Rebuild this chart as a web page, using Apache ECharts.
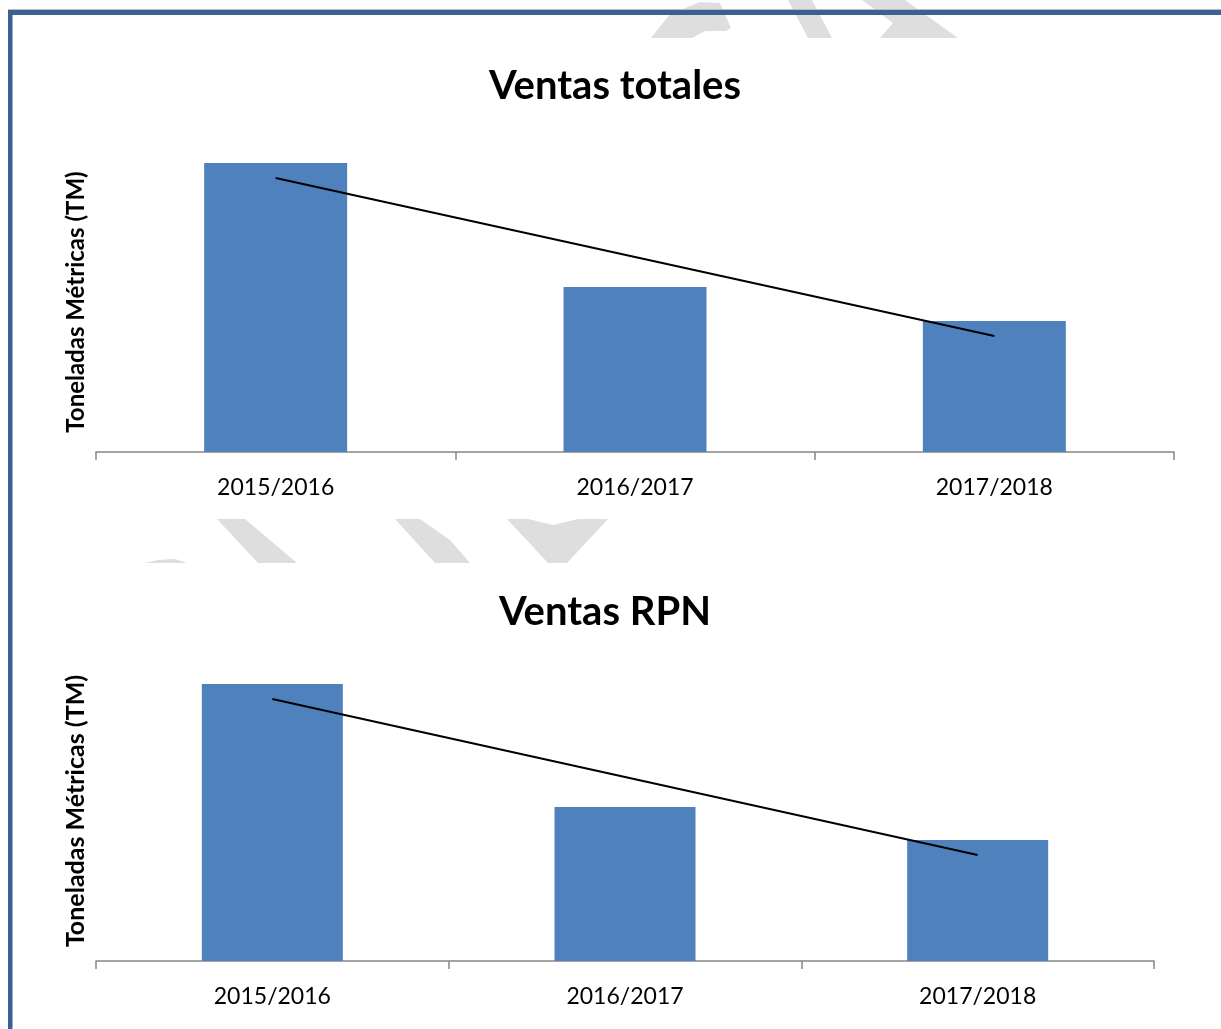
<!DOCTYPE html>
<html>
<head>
<meta charset="utf-8">
<title>Ventas totales / Ventas RPN</title>
<script src="https://cdn.jsdelivr.net/npm/echarts@6/dist/echarts.min.js"></script>
<style>
    html, body {
        margin: 0;
        padding: 0;
        background: #fff;
    }
    #main {
        width: 1221px;
        height: 1029px;
    }
</style>
</head>
<body>
<div id="main"></div>
<script>
// categorías y valores (unidades, sin escala visible)
const categories = ['2015/2016', '2016/2017', '2017/2018'];
const ventasTotales = [289, 165, 131];
const tendenciaTotales = [274, 195, 116];
const ventasRpn = [277, 154, 121];
const tendenciaRpn = [262, 184, 106];

const FONT = 'Lato, "Open Sans", sans-serif';
const BAR_COLOR = '#4f81bd';
const BORDER_COLOR = '#3b6190';
const MARCA = '#dedede';

const chart = echarts.init(document.getElementById('main'));

function xAxisCfg(idx) {
    return {
        type: 'category',
        gridIndex: idx,
        data: categories,
        axisLine: { lineStyle: { color: '#868686', width: 1.5 } },
        axisTick: { show: true, length: 8, lineStyle: { color: '#868686', width: 1.5 } },
        axisLabel: { color: '#000', fontFamily: FONT, fontSize: 23, margin: 24 }
    };
}

function yAxisCfg(idx, size) {
    return {
        type: 'value',
        gridIndex: idx,
        min: 0,
        max: 300,
        name: 'Toneladas Métricas (TM)',
        nameLocation: 'middle',
        nameRotate: 90,
        nameGap: 8,
        nameTextStyle: { color: '#000', fontFamily: FONT, fontSize: size, fontWeight: 'bold' },
        axisLine: { show: false },
        axisTick: { show: false },
        axisLabel: { show: false },
        splitLine: { show: false }
    };
}

chart.setOption({
    animation: false,
    title: [
        {
            text: 'Ventas totales',
            left: 610, top: 61, textAlign: 'center',
            textStyle: { color: '#000', fontFamily: FONT, fontSize: 40, fontWeight: 'bold' }
        },
        {
            text: 'Ventas RPN',
            left: 600, top: 587, textAlign: 'center',
            textStyle: { color: '#000', fontFamily: FONT, fontSize: 40, fontWeight: 'bold' }
        }
    ],
    grid: [
        { left: 96, width: 1078, top: 152, height: 300 },
        { left: 96, width: 1058, top: 661, height: 300 }
    ],
    xAxis: [xAxisCfg(0), xAxisCfg(1)],
    yAxis: [yAxisCfg(0, 24), yAxisCfg(1, 25)],
    series: [
        {
            type: 'bar', xAxisIndex: 0, yAxisIndex: 0,
            data: ventasTotales, barWidth: 143,
            itemStyle: { color: BAR_COLOR }
        },
        {
            type: 'line', xAxisIndex: 0, yAxisIndex: 0,
            data: tendenciaTotales, symbol: 'none',
            lineStyle: { color: '#000', width: 2 }
        },
        {
            type: 'bar', xAxisIndex: 1, yAxisIndex: 1,
            data: ventasRpn, barWidth: 141,
            itemStyle: { color: BAR_COLOR }
        },
        {
            type: 'line', xAxisIndex: 1, yAxisIndex: 1,
            data: tendenciaRpn, symbol: 'none',
            lineStyle: { color: '#000', width: 2 }
        }
    ],
    graphic: [
        // marca de agua (fragmentos)
        { type: 'polygon', z: -1, shape: { points: [[651, 38], [670, 14], [700, 2], [720, 3], [731, 28], [726, 31], [705, 31], [692, 38]] }, style: { fill: MARCA } },
        { type: 'polygon', z: -1, shape: { points: [[788, 0], [812, 0], [832, 38], [808, 38]] }, style: { fill: MARCA } },
        { type: 'polygon', z: -1, shape: { points: [[862, 0], [905, 0], [958, 38], [880, 38], [893, 23]] }, style: { fill: MARCA } },
        { type: 'polygon', z: -1, shape: { points: [[145, 563], [158, 560], [175, 559], [187, 563]] }, style: { fill: MARCA } },
        { type: 'polygon', z: -1, shape: { points: [[217, 519], [245, 519], [297, 563], [258, 563]] }, style: { fill: MARCA } },
        { type: 'polygon', z: -1, shape: { points: [[395, 519], [420, 519], [450, 540], [470, 563], [435, 563]] }, style: { fill: MARCA } },
        { type: 'polygon', z: -1, shape: { points: [[507, 519], [528, 519], [553, 525], [578, 519], [608, 519], [567, 563], [548, 563]] }, style: { fill: MARCA } },
        // marco de página
        { type: 'rect', shape: { x: 8, y: 9, width: 1213, height: 1 }, style: { fill: '#b8bcc4' } },
        { type: 'rect', shape: { x: 8, y: 10, width: 1213, height: 5 }, style: { fill: BORDER_COLOR } },
        { type: 'rect', shape: { x: 8, y: 10, width: 4.5, height: 1019 }, style: { fill: BORDER_COLOR } }
    ]
});
</script>
</body>
</html>
